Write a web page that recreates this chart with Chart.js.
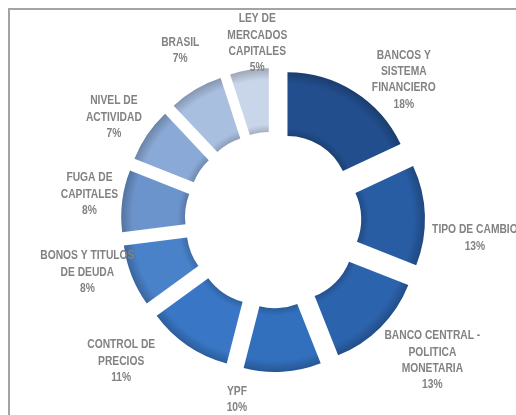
<!DOCTYPE html>
<html>
<head>
<meta charset="utf-8">
<script src="https://cdn.jsdelivr.net/npm/chart.js@4.4.0/dist/chart.umd.min.js"></script>
<style>
  html, body { margin: 0; padding: 0; background: #fff; }
  #wrap { position: relative; width: 516px; height: 415px; overflow: hidden; }
  #frame { position: absolute; left: 8px; top: 8px; width: 620px; height: 520px;
           border-left: 2px solid #a3a3a3; border-top: 2px solid #a3a3a3; }
  canvas { position: absolute; left: 0; top: 0; }
</style>
</head>
<body>
<div id="wrap">
  <div id="frame"></div>
  <canvas id="chart" width="516" height="415"></canvas>
</div>
<script>
// --- data ---
const LABELS = [
  ['BANCOS Y', 'SISTEMA', 'FINANCIERO'],
  ['TIPO DE CAMBIO'],
  ['BANCO CENTRAL -', 'POLITICA', 'MONETARIA'],
  ['YPF'],
  ['CONTROL DE', 'PRECIOS'],
  ['BONOS Y TITULOS', 'DE DEUDA'],
  ['FUGA DE', 'CAPITALES'],
  ['NIVEL DE', 'ACTIVIDAD'],
  ['BRASIL'],
  ['LEY DE', 'MERCADOS', 'CAPITALES'],
];
const VALUES = [18, 13, 13, 10, 11, 8, 8, 7, 7, 5];

// --- look ---
const COLORS = ['#224e8d', '#285ca3', '#2c63ad', '#3270bd', '#3977c6',
                '#4a82ca', '#6c94cc', '#8aa9d6', '#a9bfe0', '#c9d6ea'];
const EXPLODE = 27; // every slice pulled out the same distance (Excel style)
// label nudges from the plain "outside the slice" spot (px)
const LABEL_NUDGE = [[29, 20], [12, 24], [25, 6], [-48, -10], [-45, -16],
                     [-9, -18], [5, -2], [-2, 4], [4, -6], [14, 11]];
const LABEL_FONT = 'bold 13px "Liberation Sans", Arial, sans-serif';
const LABEL_SQUEEZE = 0.79; // Calibri-ish narrow look

function shade(hex, f) {
  const n = parseInt(hex.slice(1), 16);
  const ch = [n >> 16, (n >> 8) & 255, n & 255].map(v => Math.round(Math.max(0, Math.min(255, v * (1 + f)))));
  return `rgb(${ch.join(',')})`;
}

// bevel-ish fill: darker at the inner and outer rims
function sliceFill(ctx) {
  const base = COLORS[ctx.dataIndex];
  const chart = ctx.chart;
  const ctrl = chart.getDatasetMeta(0).controller;
  const area = chart.chartArea;
  if (!area || !ctrl.outerRadius) return base;
  const cx = (area.left + area.right) / 2;
  const cy = (area.top + area.bottom) / 2;
  const g = chart.ctx.createRadialGradient(cx, cy, ctrl.innerRadius, cx, cy, ctrl.outerRadius);
  g.addColorStop(0, shade(base, -0.18));
  g.addColorStop(0.12, base);
  g.addColorStop(0.82, base);
  g.addColorStop(1, shade(base, -0.22));
  return g;
}

// Chart.js "offset" also grows small slices, so pull them out by hand
const explodeSlices = {
  id: 'explodeSlices',
  beforeDatasetDraw(chart, args) {
    const ctx = chart.ctx;
    args.meta.data.forEach(arc => {
      const mid = (arc.startAngle + arc.endAngle) / 2;
      ctx.save();
      ctx.translate(Math.cos(mid) * EXPLODE, Math.sin(mid) * EXPLODE);
      arc.draw(ctx);
      ctx.restore();
    });
    return false;
  }
};

const outsideLabels = {
  id: 'outsideLabels',
  afterDatasetsDraw(chart) {
    const ctx = chart.ctx;
    const meta = chart.getDatasetMeta(0);
    meta.data.forEach((arc, i) => {
      const { x, y, startAngle, endAngle, outerRadius } = arc.getProps(['x', 'y', 'startAngle', 'endAngle', 'outerRadius'], true);
      const mid = (startAngle + endAngle) / 2;
      const r = outerRadius + 65;
      const px = x + Math.cos(mid) * r + LABEL_NUDGE[i][0];
      const py = y + Math.sin(mid) * r + LABEL_NUDGE[i][1];
      const lines = [...LABELS[i], VALUES[i] + '%'];
      ctx.save();
      ctx.translate(px, py);
      ctx.scale(LABEL_SQUEEZE, 1);
      ctx.font = LABEL_FONT;
      ctx.fillStyle = '#828282';
      ctx.textAlign = 'center';
      ctx.textBaseline = 'middle';
      lines.forEach((t, k) => {
        ctx.fillText(t, 0, (k - (lines.length - 1) / 2) * 16.3);
      });
      ctx.restore();
    });
  }
};

new Chart(document.getElementById('chart'), {
  type: 'doughnut',
  data: {
    labels: LABELS.map(l => l.join(' ')),
    datasets: [{
      data: VALUES,
      backgroundColor: sliceFill,
      borderWidth: 0,
    }]
  },
  options: {
    responsive: false,
    animation: false,
    cutout: '49%',
    // chart area 466x250 -> ring radius 125, centred at (273, 220)
    layout: { padding: { left: 40, right: 10, top: 95, bottom: 70 } },
    plugins: {
      legend: { display: false },
      tooltip: { enabled: false },
    },
  },
  plugins: [explodeSlices, outsideLabels],
});
</script>
</body>
</html>
